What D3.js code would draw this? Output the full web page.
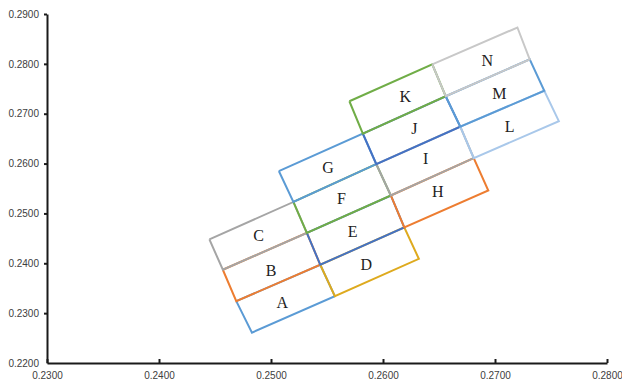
<!DOCTYPE html>
<html><head><meta charset="utf-8">
<script src="https://cdn.jsdelivr.net/npm/d3@7"></script>
<style>body{margin:0;background:#fff}svg{display:block}</style>
</head><body><svg id="c" width="622" height="386"></svg>
<script>
// ---- data ----
const xTicks = [0.23, 0.24, 0.25, 0.26, 0.27, 0.28];
const xTickLabels = ["0.2300", "0.2400", "0.2500", "0.2600", "0.2700", "0.2800"];
const yTicks = [0.22, 0.23, 0.24, 0.25, 0.26, 0.27, 0.28, 0.29];
const yTickLabels = ["0.2200", "0.2300", "0.2400", "0.2500", "0.2600", "0.2700", "0.2800", "0.2900"];

// grid vertices along each column boundary (rows r = -1 .. 4)
const boundaryX = [
  [null,   null,   0.2445, 0.2457, 0.2469, 0.2483],
  [null,   0.2507, 0.2520, 0.2532, 0.2544, 0.2557],
  [0.2570, 0.2582, 0.2594, 0.2607, 0.2619, 0.2632],
  [0.2644, 0.2656, 0.2669, 0.2681, 0.2694, null],
  [0.2720, 0.2731, 0.2744, 0.2757, null,   null]
];
const boundaryY = [
  [null,   null,   0.2448, 0.2387, 0.2324, 0.2261],
  [null,   0.2585, 0.2523, 0.2461, 0.2397, 0.2334],
  [0.2725, 0.2660, 0.2599, 0.2536, 0.2472, 0.2409],
  [0.2799, 0.2735, 0.2674, 0.2611, 0.2546, null],
  [0.2873, 0.2809, 0.2746, 0.2685, null,   null]
];

const cellNames = ["A","B","C","D","E","F","G","H","I","J","K","L","M","N"];
const cellColumn = [0,0,0,1,1,1,1,2,2,2,2,3,3,3];
const cellTopRow = [4,3,2,4,3,2,1,3,2,1,0,2,1,0];
const cellColors = ["#5B9BD5","#ED7D31","#A5A5A5","#DEAA1E","#4472C4","#70AD47","#5B9BD5",
                    "#ED7D31","#A5A5A5","#4472C4","#70AD47","#A9C8EA","#5B9BD5","#C8C8C8"];
const labelX = [0.2510,0.2500,0.2489,0.2585,0.2573,0.2563,0.2551,0.2649,0.2638,0.2628,0.2620,0.2713,0.2704,0.2693];
const labelY = [0.2322,0.2386,0.2456,0.2397,0.2463,0.2530,0.2593,0.2543,0.2610,0.2670,0.2734,0.2674,0.2741,0.2806];

// ---- drawing ----
const svg = d3.select("#c");
const x = d3.scaleLinear().domain([0.23, 0.28]).range([47, 607]);
const y = d3.scaleLinear().domain([0.22, 0.29]).range([363, 14]);

const line = d3.line().x(d => x(d[0])).y(d => y(d[1]));

cellNames.forEach((name, i) => {
  const c = cellColumn[i], t = cellTopRow[i], b = t + 1;
  const pts = [
    [boundaryX[c][t], boundaryY[c][t]],
    [boundaryX[c+1][t], boundaryY[c+1][t]],
    [boundaryX[c+1][b], boundaryY[c+1][b]],
    [boundaryX[c][b], boundaryY[c][b]],
    [boundaryX[c][t], boundaryY[c][t]]
  ];
  svg.append("path")
    .attr("d", line(pts))
    .attr("fill", "none")
    .attr("stroke", cellColors[i])
    .attr("stroke-width", 2)
    .attr("stroke-linejoin", "miter");
});

cellNames.forEach((name, i) => {
  svg.append("text")
    .attr("x", x(labelX[i]))
    .attr("y", y(labelY[i]))
    .attr("text-anchor", "middle")
    .attr("dominant-baseline", "central")
    .attr("font-family", "Liberation Serif, serif")
    .attr("font-size", 16)
    .attr("fill", "#222")
    .text(name);
});

// axes
const xAxis = d3.axisBottom(x).tickValues(xTicks)
  .tickFormat((d, i) => xTickLabels[i]).tickSizeInner(-4).tickSizeOuter(0).tickPadding(9);
const yAxis = d3.axisLeft(y).tickValues(yTicks)
  .tickFormat((d, i) => yTickLabels[i]).tickSizeInner(3).tickSizeOuter(0).tickPadding(5);

const gx = svg.append("g").attr("transform", `translate(0,${y(0.22)})`).call(xAxis);
const gy = svg.append("g").attr("transform", `translate(${x(0.23)},0)`).call(yAxis);
[gx, gy].forEach(g => {
  g.select(".domain").attr("stroke", "#1a1a1a").attr("stroke-width", 2);
  g.selectAll(".tick line").attr("stroke", "#1a1a1a").attr("stroke-width", 2);
  g.selectAll(".tick text").attr("font-family", "Liberation Sans, Arial, sans-serif")
    .attr("font-size", 10).attr("fill", "#404040");
});
gy.selectAll(".tick").filter(d => d === 0.22).select("line").remove();
</script>
</body></html>
